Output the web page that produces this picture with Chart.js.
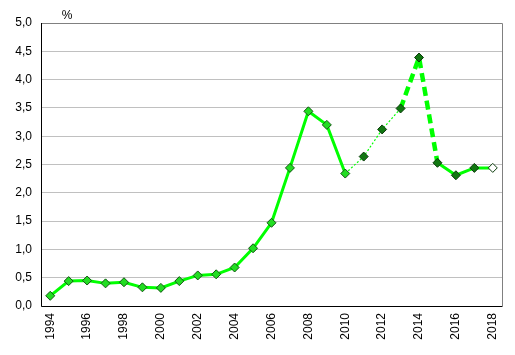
<!DOCTYPE html>
<html><head><meta charset="utf-8">
<script src="https://cdn.jsdelivr.net/npm/chart.js@4/dist/chart.umd.min.js"></script>
<style>html,body{margin:0;padding:0;background:#fff}#wrap{width:515px;height:355px}</style>
</head><body><div id="wrap"><canvas id="c" width="515" height="355"></canvas></div>
<script>
const years = ['1994','1995','1996','1997','1998','1999','2000','2001','2002','2003','2004','2005','2006','2007','2008','2009','2010','2011','2012','2013','2014','2015','2016','2017','2018'];
const values = [0.18,0.44,0.45,0.40,0.42,0.33,0.32,0.44,0.54,0.56,0.68,1.02,1.47,2.44,3.44,3.20,2.34,2.64,3.12,3.49,4.39,2.53,2.31,2.44,2.44];
const yTicks = [0,0.5,1,1.5,2,2.5,3,3.5,4,4.5,5];
const unitLabel = '%';

const pointFill = years.map((y,i)=> i<=16 ? '#22DD22' : (i===24 ? '#FFFFFF' : '#117711'));
const pointBorder = years.map((y,i)=> i<=16 ? '#115511' : '#0A3A0A');

const frame = {
  id:'frame',
  afterDraw(chart){
    const {ctx, chartArea:a} = chart;
    ctx.save();
    ctx.strokeStyle='#808080'; ctx.lineWidth=1;
    ctx.beginPath();
    ctx.moveTo(a.left, a.top+0.5); ctx.lineTo(a.right+0.5, a.top+0.5); ctx.lineTo(a.right+0.5, a.bottom);
    ctx.stroke();
    ctx.strokeStyle='#000'; ctx.beginPath();
    ctx.moveTo(a.left+0.5, a.top); ctx.lineTo(a.left+0.5, a.bottom+0.5); ctx.lineTo(a.right+0.5, a.bottom+0.5);
    ctx.stroke();
    ctx.fillStyle='#000'; ctx.font='12px "Liberation Sans", Arial, sans-serif';
    ctx.textAlign='center'; ctx.textBaseline='alphabetic';
    ctx.fillText(unitLabel, 67, 19);
    ctx.restore();
  }
};

new Chart(document.getElementById('c'), {
  type:'line',
  data:{labels:years, datasets:[{
    data:values,
    borderColor:'#00FF00',
    borderWidth:3,
    pointStyle:'rectRot',
    pointRadius:4.5,
    pointHoverRadius:4.5,
    pointBackgroundColor:pointFill,
    pointBorderColor:pointBorder,
    pointBorderWidth:1,
    tension:0,
    segment:{
      borderWidth: c => (c.p0DataIndex>=16 && c.p0DataIndex<19) ? 1.2 : (c.p0DataIndex>=19 && c.p0DataIndex<21 ? 4.5 : 3),
      borderDash: c => (c.p0DataIndex>=16 && c.p0DataIndex<19) ? [2,2] : (c.p0DataIndex>=19 && c.p0DataIndex<21 ? [9,5] : undefined)
    }
  }]},
  options:{
    responsive:false, animation:false,
    layout:{padding:{top:23,right:13,left:0,bottom:0}},
    plugins:{legend:{display:false}, tooltip:{enabled:false}},
    scales:{
      x:{
        offset:true,
        grid:{display:false, drawTicks:false},
        border:{display:false},
        afterFit(s){ s.height = 49; },
        ticks:{
          autoSkip:false, maxRotation:90, minRotation:90, padding:7,
          color:'#000', font:{family:'"Liberation Sans", Arial, sans-serif', size:12},
          callback:(v,i)=> i%2===0 ? years[i] : ''
        }
      },
      y:{
        min:0, max:5,
        afterFit(s){ s.width = 41; },
        afterBuildTicks(s){ s.ticks = yTicks.map(v=>({value:v})); },
        grid:{color:'#C0C0C0', drawTicks:false, lineWidth:1},
        border:{display:false},
        ticks:{
          padding:9, color:'#000', font:{family:'"Liberation Sans", Arial, sans-serif', size:12},
          callback:v=> v.toFixed(1).replace('.',',')
        }
      }
    }
  },
  plugins:[frame]
});
</script></body></html>
